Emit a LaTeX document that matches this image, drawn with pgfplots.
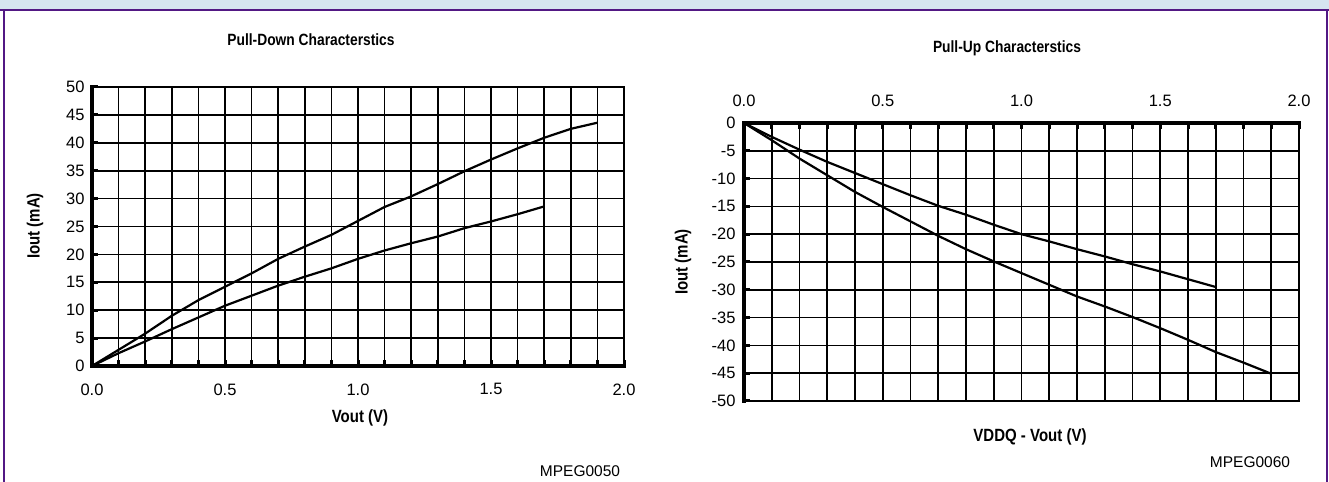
\documentclass[border=0pt]{standalone}
\usepackage{pgfplots}
\pgfplotsset{compat=1.18}
\usepackage{fontspec}
\setmainfont{Liberation Sans}

\definecolor{framepurple}{RGB}{82,24,132}
\definecolor{headblue}{RGB}{214,229,240}

\newcommand{\ticklab}{\fontsize{16.5bp}{18bp}\selectfont}
\newcommand{\codefont}{\fontsize{15.5bp}{17bp}\selectfont}
\newcommand{\labfont}{\fontsize{15bp}{17bp}\selectfont\bfseries}
\newcommand{\titfont}{\fontsize{13.8bp}{16bp}\selectfont\bfseries}
\newcommand{\tall}[1]{\scalebox{1}[1.18]{#1}}

% pull-down (Vout, Iout)
\pgfplotstableread{
x y
0.0 0.0
0.1 2.9
0.2 5.8
0.3 9.0
0.4 11.8
0.5 14.2
0.6 16.6
0.7 19.2
0.8 21.4
0.9 23.5
1.0 26.0
1.1 28.5
1.2 30.4
1.3 32.6
1.4 34.9
1.5 37.0
1.6 39.0
1.7 40.9
1.8 42.5
1.9 43.6
}\pdmax
\pgfplotstableread{
x y
0.0 0.0
0.1 2.3
0.2 4.4
0.3 6.6
0.4 8.7
0.5 10.8
0.6 12.6
0.7 14.4
0.8 16.0
0.9 17.5
1.0 19.2
1.1 20.7
1.2 22.0
1.3 23.2
1.4 24.7
1.5 25.9
1.6 27.2
1.7 28.6
}\pdmin
% pull-up (VDDQ - Vout, Iout)
\pgfplotstableread{
x y
0.0 0.0
0.1 -2.5
0.2 -4.8
0.3 -7.0
0.4 -9.0
0.5 -11.0
0.6 -13.0
0.7 -14.9
0.8 -16.5
0.9 -18.3
1.0 -20.0
1.1 -21.3
1.2 -22.7
1.3 -24.0
1.4 -25.4
1.5 -26.7
1.6 -28.1
1.7 -29.5
}\pumin
\pgfplotstableread{
x y
0.0 0.0
0.1 -3.1
0.2 -6.4
0.3 -9.4
0.4 -12.4
0.5 -15.1
0.6 -17.7
0.7 -20.3
0.8 -22.7
0.9 -24.9
1.0 -27.0
1.1 -29.1
1.2 -31.2
1.3 -33.0
1.4 -34.9
1.5 -36.9
1.6 -39.0
1.7 -41.2
1.8 -43.1
1.9 -45.1
}\pumax

\pgfplotsset{
  chart/.style={
    scale only axis,
    clip=false,
    xmin=0, xmax=2,
    xtick={0,0.5,1,1.5,2},
    xticklabels={0.0,0.5,1.0,1.5,2.0},
    minor x tick num=4,
    grid=both,
    major grid style={black, line width=1.7bp},
    minor grid style={black, line width=1.7bp},
    tick align=inside,
    major tick length=6bp, minor tick length=6bp,
    tick style={black, line width=3bp},
    minor tick style={black, line width=3bp},
    axis line style={black, line width=1.9bp},
    ticklabel style={font=\ticklab},
  },
  curve/.style={black, line width=2.2bp, no marks},
}

\begin{document}
\begin{tikzpicture}[x=1bp, y=1bp]
\useasboundingbox (0,0) rectangle (1329,482);
% frame
\fill[headblue] (0,472) rectangle (1329,482);
\draw[framepurple, line width=2.6bp] (0,472) -- (1329,472);
\draw[framepurple, line width=2.4bp] (4,0) -- (4,472);
\draw[framepurple, line width=2.4bp] (1327,0) -- (1327,472);

% pull-down
\begin{axis}[chart,
  at={(92bp,116bp)}, anchor=south west,
  width=532bp, height=279bp,
  ymin=0, ymax=50,
  ytick={0,5,...,50},
  yticklabels={0,5,10,15,20,25,30,35,40,45,50},
  xtick pos=lower, ytick pos=left,
  xticklabel style={yshift=-14bp},
  yticklabel style={xshift=-4bp},
]
\addplot[curve] table {\pdmax};
\addplot[curve] table {\pdmin};
\draw[black, line width=3.6bp, line cap=rect] (rel axis cs:0,1) -- (rel axis cs:0,0) -- (rel axis cs:1,0);
\end{axis}
\node[font=\titfont] at (311,442) {\tall{Pull-Down Characterstics}};
\node[font=\labfont, rotate=90] at (35,256) {\tall{Iout (mA)}};
\node[font=\labfont] at (360,64) {\tall{Vout (V)}};
\node[font=\codefont] at (580,11) {MPEG0050};

% pull-up
\begin{axis}[chart,
  at={(744bp,81bp)}, anchor=south west,
  width=555bp, height=278bp,
  ymin=-50, ymax=0,
  ytick={-50,-45,...,0},
  yticklabels={-50,-45,-40,-35,-30,-25,-20,-15,-10,-5,0},
  xtick pos=upper, xticklabel pos=upper, ytick pos=left,
  xticklabel style={yshift=13bp},
  yticklabel style={xshift=-5bp},
]
\addplot[curve] table {\pumin};
\addplot[curve] table {\pumax};
\draw[black, line width=3.6bp, line cap=rect] (rel axis cs:0,0) -- (rel axis cs:0,1) -- (rel axis cs:1,1);
\end{axis}
\node[font=\titfont] at (1007,434) {\tall{Pull-Up Characterstics}};
\node[font=\labfont, rotate=90] at (683,220) {\tall{Iout (mA)}};
\node[font=\labfont] at (1030,45) {\tall{VDDQ - Vout (V)}};
\node[font=\codefont] at (1250,20) {MPEG0060};
\end{tikzpicture}
\end{document}
